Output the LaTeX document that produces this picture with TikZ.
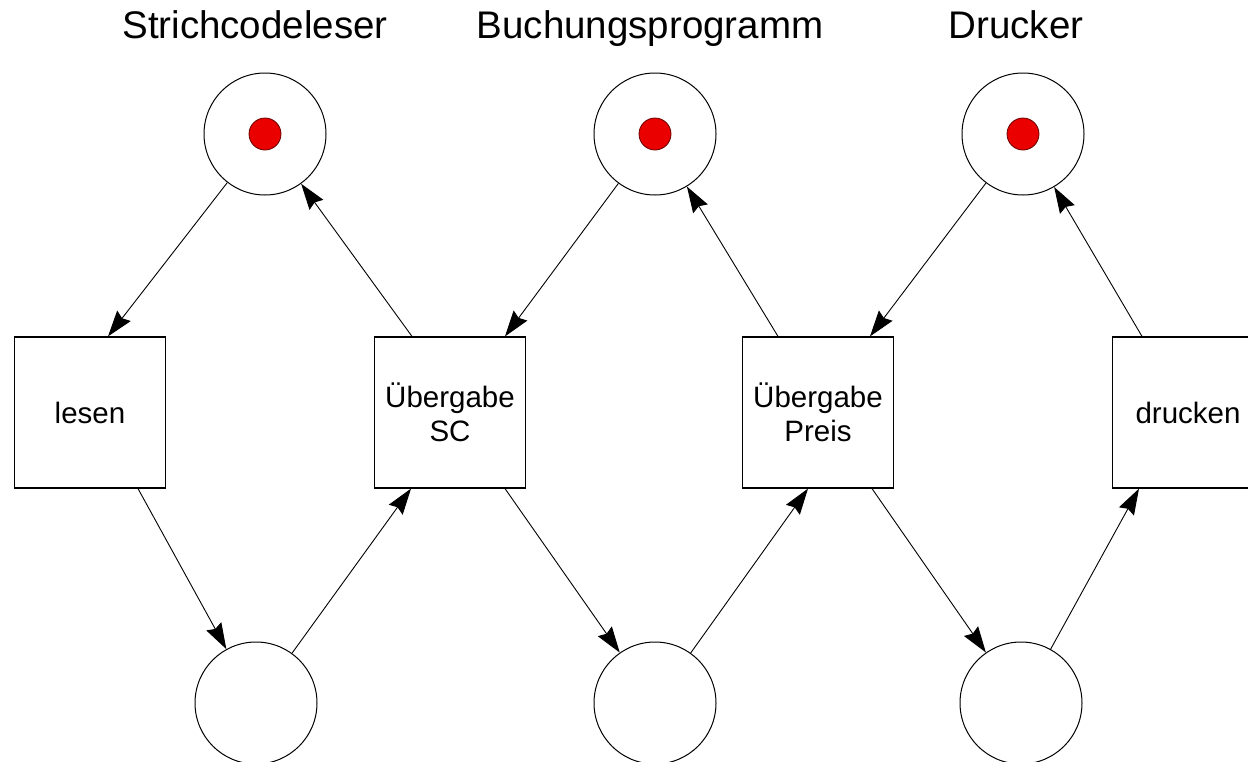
\documentclass[tikz,border=0pt]{standalone}
\usepackage{fontspec}
\setmainfont{Liberation Sans}
\usetikzlibrary{arrows.meta}

\begin{document}
\begin{tikzpicture}[x=1pt, y=-1pt,
		place/.style={circle, draw, line width=1pt, minimum size=122pt, inner sep=0pt},
		trans/.style={rectangle, draw, line width=1.2pt, minimum size=151pt, inner sep=0pt, align=center, font=\fontsize{29.5}{34}\selectfont},
		token/.style={circle, draw=black!60!red, line width=0.8pt, fill=red!92!black, minimum size=32pt, inner sep=0pt},
		title/.style={anchor=base, font=\fontsize{38.5}{44}\selectfont},
		arc/.style={-{Stealth[length=26pt, width=17pt, inset=3pt]}, line width=0.9pt}]
		\useasboundingbox (0,0) rectangle (1248,761);
		\clip (0,0) rectangle (1248,761);
		% Titel
		\node[title] (tS) at (255,38) {Strichcodeleser};
		\node[title] (tB) at (650,38) {Buchungsprogramm};
		\node[title] (tD) at (1016,38) {Drucker};
		% Stellen
		\node[place] (p1) at (265,134) {};
		\node[place] (p2) at (655,134) {};
		\node[place] (p3) at (1023,134) {};
		\node[token] (m1) at (p1) {};
		\node[token] (m2) at (p2) {};
		\node[token] (m3) at (p3) {};
		\node[place] (q1) at (256,703) {};
		\node[place] (q2) at (655,703) {};
		\node[place] (q3) at (1021,703) {};
		% Transitionen
		\node[trans] (t1) at (90,412.5) {lesen};
		\node[trans] (t2) at (450,412.5) {Übergabe\\SC};
		\node[trans] (t3) at (818,412.5) {Übergabe\\Preis};
		\node[trans] (t4) at (1188,412.5) {drucken};
		% Kanten
		\draw[arc] (p1) -- ([xshift=18pt]t1.north);
		\draw[arc] ([xshift=-38pt]t2.north) -- (p1);
		\draw[arc] ([xshift=48pt]t1.south) -- (q1);
		\draw[arc] (q1) -- ([xshift=-39pt]t2.south);
		\draw[arc] (p2) -- ([xshift=55pt]t2.north);
		\draw[arc] ([xshift=-40pt]t3.north) -- (p2);
		\draw[arc] ([xshift=55pt]t2.south) -- (q2);
		\draw[arc] (q2) -- ([xshift=-10pt]t3.south);
		\draw[arc] (p3) -- ([xshift=52pt]t3.north);
		\draw[arc] ([xshift=-46pt]t4.north) -- (p3);
		\draw[arc] ([xshift=54pt]t3.south) -- (q3);
		\draw[arc] (q3) -- ([xshift=-49pt]t4.south);
\end{tikzpicture}
\end{document}
